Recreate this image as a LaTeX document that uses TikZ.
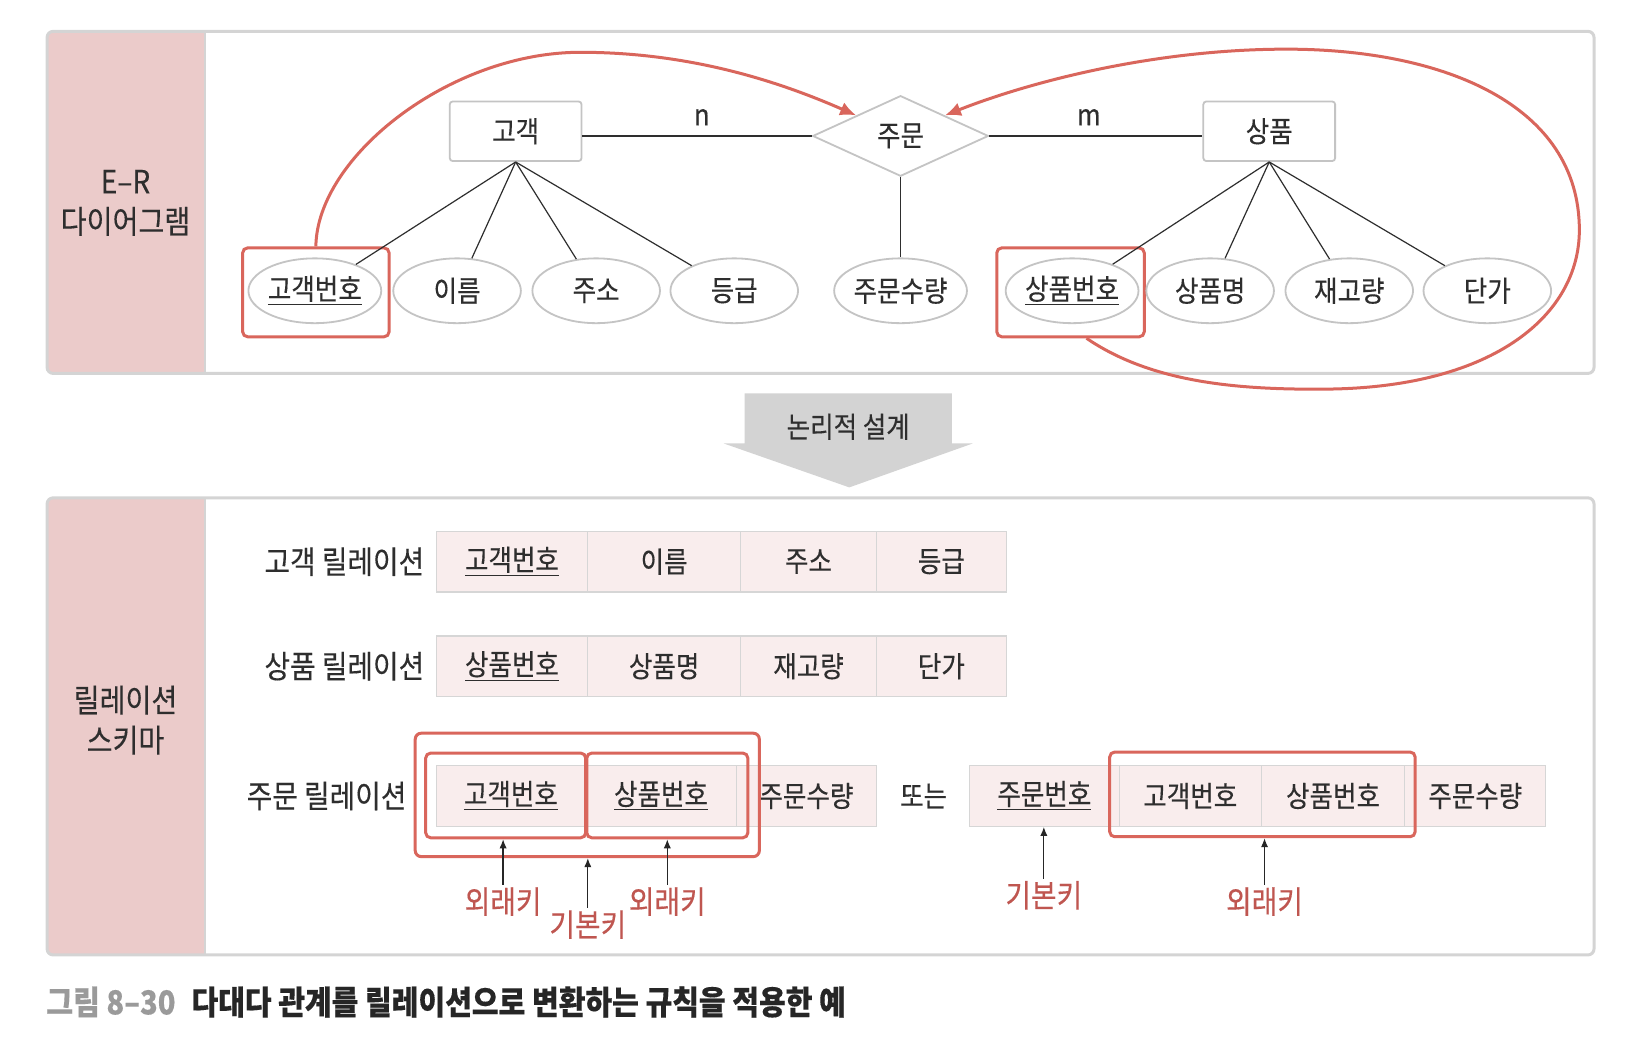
\documentclass[tikz,border=0pt]{standalone}
\usepackage{fontspec}
\setmainfont{Noto Sans CJK KR}[FakeStretch=0.88,FakeBold=0.3]
\usetikzlibrary{shapes.geometric,arrows.meta,fit,calc}
\definecolor{pinkcol}{HTML}{EBCBCA}
\definecolor{cellfill}{HTML}{F9EDED}
\definecolor{cellline}{HTML}{D6D6D6}
\definecolor{panelline}{HTML}{D4D4D4}
\definecolor{redline}{HTML}{D9665C}
\definecolor{redtext}{HTML}{BF5650}
\definecolor{txt}{HTML}{2E2E2E}
\definecolor{ellline}{HTML}{C4C4C4}
\definecolor{arrowgray}{HTML}{D3D3D3}
\definecolor{capgray}{HTML}{9A9A9A}
\tikzset{
  panel/.style={draw=panelline, line width=1.5pt, rounded corners=3pt},
  hdr/.style={align=center, font=\fontsize{16}{20}\selectfont, text=txt},
  entity/.style={rectangle, rounded corners=1.5pt, draw=ellline, line width=0.9pt, fill=white,
    minimum width=65.9pt, minimum height=29.8pt, inner sep=0pt},
  relship/.style={diamond, draw=ellline, line width=0.9pt, fill=white,
    minimum width=87.9pt, minimum height=40.3pt, inner sep=0pt},
  attr/.style={ellipse, draw=ellline, line width=0.9pt, fill=white,
    minimum width=63.8pt, minimum height=32.4pt, inner sep=0pt},
  conn/.style={draw=txt, line width=0.6pt},
  redbox/.style={rectangle, draw=redline, line width=1.5pt, rounded corners=2.5pt, inner sep=0pt},
  redarrow/.style={draw=redline, line width=1.5pt, -{Latex[length=8pt,width=7pt]}},
  cell/.style={rectangle, draw=cellline, fill=cellfill, line width=0.6pt, inner sep=0pt,
    minimum height=30.33pt, minimum width=#1*0.52296pt},
  rellabel/.style={anchor=east, font=\fontsize{15.8}{18}\selectfont, text=txt, inner sep=0pt},
  keylbl/.style={text=redtext, font=\fontsize{15.8}{18}\selectfont, inner sep=1pt},
  keyarr/.style={draw=black!85, line width=0.6pt, -{Latex[length=4.5pt,width=3.6pt]}},
  plain/.style={text=txt, inner sep=0pt}
}
\begin{document}
\begin{tikzpicture}[x=0.52296pt, y=-0.52296pt, font=\fontsize{14.5}{16}\selectfont, text=txt]
\useasboundingbox (0,0) rectangle (1568,1010);
% ---------- top panel ----------
\begin{scope}
  \clip[rounded corners=3pt] (45,30) rectangle (1524,357);
  \fill[white] (45,30) rectangle (1524,357);
  \fill[pinkcol] (45,30) rectangle (196,357);
\end{scope}
\draw[panelline, line width=0.8pt] (196,31) -- (196,356);
\draw[panel] (45,30) rectangle (1524,357);
\node[hdr] (erhdr) at (120,194) {E–R\\다이어그램};

% red key boxes (top)
\node[redbox, fit={(232,237)(372,322)}] (rk1) {};
\node[redbox, fit={(953,237)(1094,322)}] (rk2) {};

% entities and relationship
\node[entity] (gogaek) at (493,125.5) {고객};
\node[entity] (sangpum) at (1213.5,125.5) {상품};
\node[relship] (jumun) at (861,130) {주문};

% attributes
\node[attr] (a1) at (301,278) {\underline{고객번호}};
\node[attr] (a2) at (437,278) {이름};
\node[attr] (a3) at (570,278) {주소};
\node[attr] (a4) at (702,278) {등급};
\node[attr] (a5) at (861,278) {주문수량};
\node[attr] (a6) at (1025,278) {\underline{상품번호}};
\node[attr] (a7) at (1157,278) {상품명};
\node[attr] (a8) at (1290,278) {재고량};
\node[attr] (a9) at (1422,278) {단가};

% connectors
\draw[conn] (jumun.west) -- (jumun.west -| gogaek.east);
\draw[conn] (jumun.east) -- (jumun.east -| sangpum.west);
\draw[conn] (jumun.south) -- (a5);
\foreach \a in {a1,a2,a3,a4} \draw[conn] (gogaek.south) -- (\a);
\foreach \a in {a6,a7,a8,a9} \draw[conn] (sangpum.south) -- (\a);
\node[plain] (nlab) at (671,112) {n};
\node[plain] (mlab) at (1041,112) {m};

% red curved arrows
\draw[redarrow] (rk1.north) .. controls (303,150) and (430,50) .. (555,50)
   .. controls (660,50) and (745,78) .. (jumun.north west);
\draw[redarrow] ([xshift=8pt]rk2.south) .. controls (1100,365) and (1180,373) .. (1270,372)
   .. controls (1430,370) and (1510,300) .. (1510,220)
   .. controls (1510,100) and (1380,47) .. (1230,47)
   .. controls (1100,47) and (980,80) .. (jumun.north east);

% ---------- big gray arrow ----------
\fill[arrowgray] (712,376) -- (910,376) -- (910,424) -- (930,424) -- (812,466)
   -- (692,424) -- (712,424) -- cycle;
\node[plain] (logic) at (811,408) {논리적 설계};

% ---------- bottom panel ----------
\begin{scope}
  \clip[rounded corners=3pt] (45,476) rectangle (1524,913);
  \fill[white] (45,476) rectangle (1524,913);
  \fill[pinkcol] (45,476) rectangle (196,913);
\end{scope}
\draw[panelline, line width=0.8pt] (196,477) -- (196,912);
\draw[panel] (45,476) rectangle (1524,913);
\node[hdr] (relhdr) at (120,688.5) {릴레이션\\스키마};

% relation labels
\node[rellabel] (l1) at (406,537) {고객 릴레이션};
\node[rellabel] (l2) at (406,637) {상품 릴레이션};
\node[rellabel] (l3) at (389,761) {주문 릴레이션};

% row 1
\node[cell=145] (c11) at (489.5,537) {\underline{고객번호}};
\node[cell=146] (c12) at (635,537) {이름};
\node[cell=130] (c13) at (773,537) {주소};
\node[cell=124] (c14) at (900,537) {등급};
% row 2
\node[cell=145] (c21) at (489.5,637) {\underline{상품번호}};
\node[cell=146] (c22) at (635,637) {상품명};
\node[cell=130] (c23) at (773,637) {재고량};
\node[cell=124] (c24) at (900,637) {단가};
% row 3 left
\node[cell=143] (d1) at (488.5,761) {\underline{고객번호}};
\node[cell=144] (d2) at (632,761) {\underline{상품번호}};
\node[cell=134] (d3) at (771,761) {주문수량};
\node[plain] (or) at (883,761) {또는};
% row 3 right
\node[cell=143] (e1) at (998.5,761) {\underline{주문번호}};
\node[cell=136] (e2) at (1138,761) {고객번호};
\node[cell=137] (e3) at (1274.5,761) {상품번호};
\node[cell=135] (e4) at (1410.5,761) {주문수량};

% red key boxes (bottom)
\node[redbox, rounded corners=3pt, fit={(397,701)(726,819)}] (rbo) {};
\node[redbox, fit={(407,720)(560,801)}] (rb1) {};
\node[redbox, fit={(561,720)(715,801)}] (rb2) {};
\node[redbox, fit={(1061,719)(1353,800)}] (rb3) {};

% key labels and arrows
\node[keylbl] (fk1) at (481,862) {외래키};
\node[keylbl] (pk1) at (562,884) {기본키};
\node[keylbl] (fk2) at (638,862) {외래키};
\node[keylbl] (pk2) at (998,856) {기본키};
\node[keylbl] (fk3) at (1209,862) {외래키};
\draw[keyarr] (fk1.north) -- (fk1.north |- rb1.south);
\draw[keyarr] (pk1.north) -- (pk1.north |- rbo.south);
\draw[keyarr] (fk2.north) -- (fk2.north |- rb2.south);
\draw[keyarr] (pk2.north) -- (pk2.north |- e1.south);
\draw[keyarr] (fk3.north) -- (fk3.north |- rb3.south);

% caption
\node[anchor=west, inner sep=0pt, font=\fontsize{16.5}{18}\bfseries\selectfont, text=black!85] (cap) at (44,958)
  {\textcolor{capgray}{그림 8–30}\hspace{8pt}다대다 관계를 릴레이션으로 변환하는 규칙을 적용한 예};
\end{tikzpicture}
\end{document}
